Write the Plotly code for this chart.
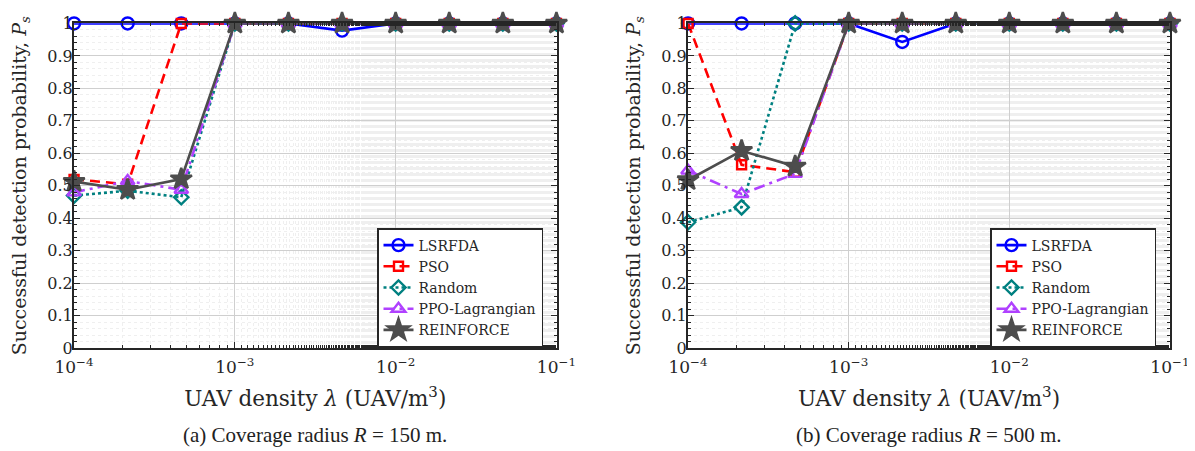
import plotly.graph_objects as go

x_vals = [1e-4, 2.154e-4, 4.642e-4, 1e-3, 2.154e-3, 4.642e-3, 1e-2, 2.154e-2, 4.642e-2, 1e-1]

names = ["LSRFDA", "PSO", "Random", "PPO-Lagrangian", "REINFORCE"]

# (a) R = 150 m
a_lsrfda = [1, 1, 1, 1, 1, 0.978, 1, 1, 1, 1]
a_pso = [0.52, 0.505, 1, 1, 1, 1, 1, 1, 1, 1]
a_random = [0.47, 0.485, 0.465, 1, 1, 1, 1, 1, 1, 1]
a_ppo = [0.48, 0.515, 0.488, 1, 1, 1, 1, 1, 1, 1]
a_reinforce = [0.513, 0.488, 0.521, 1, 1, 1, 1, 1, 1, 1]

# (b) R = 500 m
b_lsrfda = [1, 1, 1, 1, 0.943, 1, 1, 1, 1, 1]
b_pso = [1, 0.565, 0.542, 1, 1, 1, 1, 1, 1, 1]
b_random = [0.388, 0.434, 1, 1, 1, 1, 1, 1, 1, 1]
b_ppo = [0.547, 0.475, 0.537, 1, 1, 1, 1, 1, 1, 1]
b_reinforce = [0.518, 0.608, 0.56, 1, 1, 1, 1, 1, 1, 1]

x_tickvals = [1e-4, 1e-3, 1e-2, 1e-1]
x_ticktext = ["10<sup>−4</sup>", "10<sup>−3</sup>", "10<sup>−2</sup>", "10<sup>−1</sup>"]
y_tickvals = [0, 0.1, 0.2, 0.3, 0.4, 0.5, 0.6, 0.7, 0.8, 0.9, 1]
y_ticktext = ["0", "0.1", "0.2", "0.3", "0.4", "0.5", "0.6", "0.7", "0.8", "0.9", "1"]

captions = ["(a) Coverage radius <i>R</i> = 150 m.", "(b) Coverage radius <i>R</i> = 500 m."]

styles = [
    dict(color="#0000FF", dash="solid", symbol="circle-open", size=12),
    dict(color="#FF0000", dash="10px,6px", symbol="square-open", size=9),
    dict(color="#008080", dash="dot", symbol="diamond-open", size=11),
    dict(color="#B041FF", dash="11px,5px,3px,5px", symbol="triangle-up-open", size=12),
    dict(color="#4D4D4D", dash="solid", symbol="star", size=16),
]

SERIF = "DejaVu Serif, Liberation Serif, serif"
CAP = "Liberation Serif, DejaVu Serif, serif"

fig = go.Figure()

panels = [
    ([a_lsrfda, a_pso, a_random, a_ppo, a_reinforce], "x", "y", "legend"),
    ([b_lsrfda, b_pso, b_random, b_ppo, b_reinforce], "x2", "y2", "legend2"),
]

for series, xa, ya, lg in panels:
    for name, vals, st in zip(names, series, styles):
        fig.add_trace(go.Scatter(
            x=x_vals, y=vals, name=name, mode="lines+markers",
            xaxis=xa, yaxis=ya, legend=lg, cliponaxis=False,
            line=dict(color=st["color"], dash=st["dash"], width=2.6),
            marker=dict(symbol=st["symbol"], size=st["size"], color=st["color"],
                        line=dict(color=st["color"], width=2.4)),
        ))

# page body has an 8px margin, so the figure is offset by 8px
OFF = 8
W, H = 1195 - OFF, 451 - OFF
x_domains = [[(74 - OFF) / W, (556.5 - OFF) / W], [(688 - OFF) / W, (1170 - OFF) / W]]
y_domain = [(H - (348.3 - OFF)) / H, (H - (23.3 - OFF)) / H]

axis_common_x = dict(
    type="log", range=[-4.0004, -0.9996], tickvals=x_tickvals, ticktext=x_ticktext,
    automargin=False, ticklabelstandoff=2,
    showline=True, linecolor="#262626", linewidth=2, mirror="ticks",
    ticks="inside", ticklen=6, tickcolor="#262626", tickwidth=1.2,
    showgrid=True, gridcolor="#CFCFCF", gridwidth=1.3,
    minor=dict(showgrid=True, gridcolor="#EFEFEF", griddash="dot", gridwidth=1,
               ticks="inside", ticklen=3, tickcolor="#262626"),
    tickfont=dict(family=SERIF, size=17, color="#262626"),
    title=dict(text="UAV density <i>λ</i> (UAV/m<sup>3</sup>)",
               font=dict(family=SERIF, size=21.5, color="#262626"), standoff=15),
    zeroline=False,
)
axis_common_y = dict(
    range=[0, 1.0004], tickvals=y_tickvals, ticktext=y_ticktext, domain=y_domain,
    automargin=False, ticklabelstandoff=-4,
    showline=True, linecolor="#262626", linewidth=2, mirror="ticks",
    ticks="inside", ticklen=6, tickcolor="#262626", tickwidth=1.2,
    showgrid=True, gridcolor="#CFCFCF", gridwidth=1.3,
    minor=dict(dtick=0.02, showgrid=True, gridcolor="#EFEFEF", griddash="dot", gridwidth=1,
               ticks="inside", ticklen=3, tickcolor="#262626"),
    tickfont=dict(family=SERIF, size=16, color="#262626"),
    title=dict(text="Successful detection probability, <i>P<sub>s</sub></i>",
               font=dict(family=SERIF, size=19, color="#262626"), standoff=16),
    zeroline=False,
)

legend_common = dict(
    bgcolor="white", bordercolor="#262626", borderwidth=1.5,
    font=dict(family=SERIF, size=14, color="#262626"),
    xanchor="left", yanchor="top", tracegroupgap=0, itemwidth=30,
)

cap_y = (H - (435 - OFF)) / H
fig.update_layout(
    width=W, height=H, margin=dict(l=0, r=0, t=0, b=0),
    paper_bgcolor="white", plot_bgcolor="white",
    xaxis=dict(domain=x_domains[0], anchor="y", **axis_common_x),
    yaxis=dict(anchor="x", **axis_common_y),
    xaxis2=dict(domain=x_domains[1], anchor="y2", **axis_common_x),
    yaxis2=dict(anchor="x2", **axis_common_y),
    legend=dict(x=(377 - OFF) / W, y=(H - (228 - OFF)) / H, **legend_common),
    legend2=dict(x=(990 - OFF) / W, y=(H - (228 - OFF)) / H, **legend_common),
    annotations=[
        dict(text=captions[i], x=(x_domains[i][0] + x_domains[i][1]) / 2, y=cap_y,
             xref="paper", yref="paper", showarrow=False, xanchor="center", yanchor="middle",
             font=dict(family=CAP, size=21, color="#222222"))
        for i in range(2)
    ],
)

fig.write_html("out.html")
